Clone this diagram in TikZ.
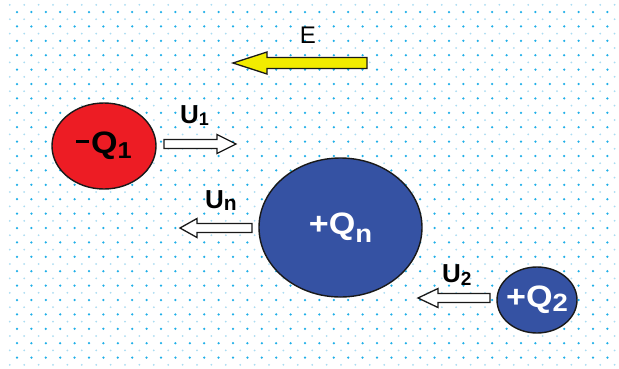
\documentclass[tikz,border=0pt]{standalone}
\usepackage{fontspec}
\setmainfont{Liberation Sans}
\newfontfamily\qfont{Liberation Sans}[FakeStretch=1.1]
\usetikzlibrary{shapes.geometric}
\definecolor{dotA}{RGB}{30,175,232}
\definecolor{dotB}{RGB}{170,220,242}
\definecolor{qred}{RGB}{237,28,36}
\definecolor{qblue}{RGB}{53,82,163}
\definecolor{eyellow}{RGB}{242,236,0}
\definecolor{edge}{RGB}{25,25,25}
\tikzset{
  charge/.style={ellipse, draw=edge, line width=1.4pt, inner sep=0pt},
  qtext/.style={inner sep=0pt, font=\qfont\bfseries\fontsize{31}{31}\selectfont},
  ulabel/.style={inner sep=0pt, anchor=base west, font=\bfseries\fontsize{26}{26}\selectfont},
  hollow/.style={draw=edge, fill=white, line width=1.3pt, line join=miter},
  pics/blockarr/.style n args={4}{code={
    \path[pic actions] (0,-#4) -- ({#1-#2},-#4) -- ({#1-#2},-#3) -- (#1,0)
      -- ({#1-#2},#3) -- ({#1-#2},#4) -- (0,#4) -- cycle;
  }}
}
\newcommand{\sbx}[3]{\raisebox{-#1pt}{\fontsize{#2}{#2}\selectfont #3}}
\newcommand{\qminus}{\raisebox{10.5pt}{\rule{13pt}{3.2pt}}\hspace{2pt}}
\begin{document}
\begin{tikzpicture}[x=1pt,y=-1pt]
\useasboundingbox (0,0) rectangle (619,368);
\fill[white] (0,0) rectangle (619,368);
% dotted background
\foreach \i in {0,...,42}{
  \foreach \j in {0,...,25}{
    \fill[dotB] ({9.8+14.4*\i},{4.8+14.4*\j}) circle (1pt);
  }
}
\foreach \i in {0,...,41}{
  \foreach \j in {0,...,24}{
    \fill[dotA] ({17+14.4*\i},{12+14.4*\j}) circle (1.25pt);
  }
}
% field arrow
\node[inner sep=0pt, font=\fontsize{24}{24}\selectfont] (elabel) at (308,35) {E};
\coordinate (etail) at (367,63);
\pic[draw=edge, fill=eyellow, line width=1.3pt, xscale=-1] at (etail) {blockarr={134}{34}{11}{5.5}};
% charges
\node[charge, fill=qred, minimum width=104pt, minimum height=86pt] (q1) at (104,146) {};
\node[qtext, text=black] (q1t) at (q1.center) {\qminus Q\sbx{5}{23}{1}};
\node[charge, fill=qblue, minimum width=163pt, minimum height=139pt] (qn) at (340.5,227.5) {};
\node[qtext, text=white] (qnt) at (qn.center) {+Q\sbx{8}{25}{n}};
\node[charge, fill=qblue, minimum width=80pt, minimum height=66pt] (q2) at (537,300) {};
\node[qtext, text=white] (q2t) at (q2.center) {+Q\sbx{4}{25}{2}};
% velocity labels
\node[ulabel] (u1) at (180,123) {U\sbx{2}{18}{1}};
\node[ulabel] (un) at (205,208) {U\sbx{2}{21}{n}};
\node[ulabel] (u2) at (442,282) {U\sbx{3}{19}{2}};
% velocity arrows
\coordinate (u1tail) at (164,144);
\coordinate (untail) at (252,228);
\coordinate (u2tail) at (490,298);
\pic[hollow] at (u1tail) {blockarr={72}{19}{9.5}{4.5}};
\pic[hollow, xscale=-1] at (untail) {blockarr={72}{17}{9.5}{4.5}};
\pic[hollow, xscale=-1] at (u2tail) {blockarr={72}{20}{9.5}{4.5}};
\end{tikzpicture}
\end{document}
